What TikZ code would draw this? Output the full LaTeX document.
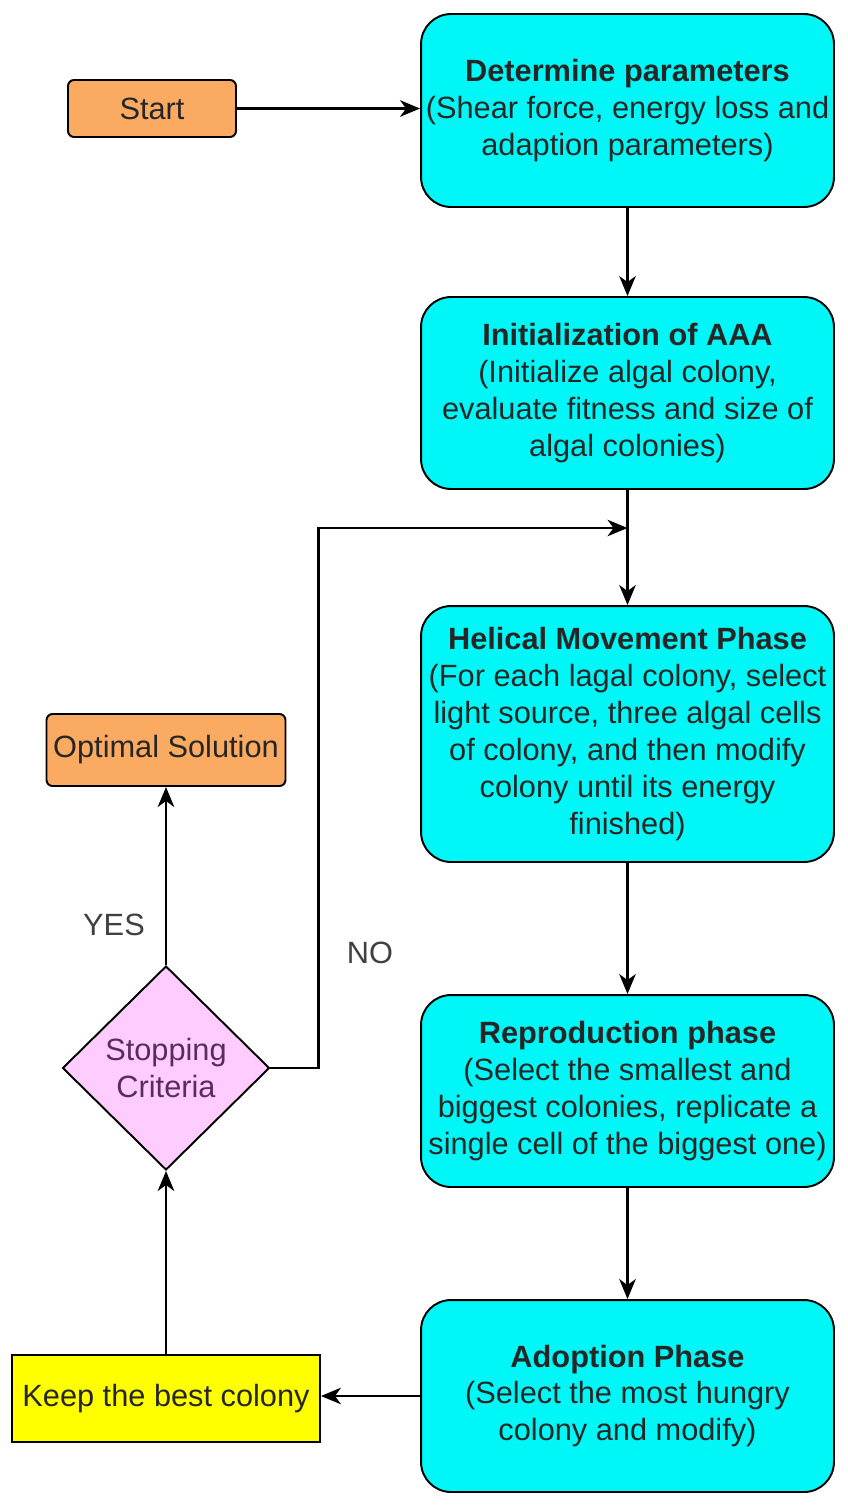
\documentclass[tikz,border=0pt]{standalone}
\usepackage{fontspec}
\setmainfont{Liberation Sans}
\usepackage{tikz}
\usepackage{xcolor}
\usetikzlibrary{
    arrows.meta,
    shapes.geometric,
    positioning
}
\definecolor{aqua}{HTML}{00F7F7}
\definecolor{peach}{HTML}{FBAA62}
\definecolor{lilac}{HTML}{FFCCFF}
\definecolor{lemon}{HTML}{FFFF00}
\definecolor{plum}{HTML}{5A2C5A}

\begin{document}
\begin{tikzpicture}[x=0.02cm, y=-0.02cm,
                        every node/.style={font=\fontsize{17.5}{21}\selectfont, text=black!85},
                        phase/.style={draw, line width=1.1pt, fill=aqua, rounded corners=0.6cm,
                            align=center, minimum width=8.26cm, inner sep=0pt},
                        terminal/.style={draw, line width=1.1pt, fill=peach, rounded corners=0.12cm,
                            inner sep=0pt},
                        flow/.style={line width=1.3pt, -{Stealth[length=4mm, width=3.3mm, inset=1.2mm]}}]
                        \useasboundingbox (0, 0) rectangle (848, 1512);
                        \node[terminal, minimum width=3.36cm, minimum height=1.14cm] (start) at (152, 108.5) {Start};
                        \node[phase, minimum height=3.86cm] (param) at (627.5, 110.5)
                        {\textbf{Determine parameters}\\(Shear force, energy loss and\\adaption parameters)};
                        \node[phase, minimum height=3.84cm] (init) at (627.5, 393)
                        {\textbf{Initialization of AAA}\\(Initialize algal colony,\\evaluate fitness and size of\\algal colonies)};
                        \node[phase, minimum height=5.12cm] (helix) at (627.5, 734)
                        {\textbf{Helical Movement Phase}\\(For each lagal colony, select\\light source, three algal cells\\of colony, and then modify\\colony until its energy\\finished)};
                        \node[phase, minimum height=3.84cm] (repro) at (627.5, 1091)
                        {\textbf{Reproduction phase}\\(Select the smallest and\\biggest colonies, replicate a\\single cell of the biggest one)};
                        \node[phase, minimum height=3.84cm] (adopt) at (627.5, 1396)
                        {\textbf{Adoption Phase}\\(Select the most hungry\\colony and modify)};
                        \node[draw, line width=1.1pt, fill=lemon, inner sep=0pt,
                            minimum width=6.16cm, minimum height=1.74cm] (keep) at (166, 1398.5) {Keep the best colony};
                        \node[diamond, draw, line width=1.1pt, fill=lilac, inner sep=0pt, align=center,
                            minimum width=4.14cm, minimum height=4.08cm, text=plum] (crit) at (166, 1068)
                        {Stopping\\Criteria};
                        \node[terminal, minimum width=4.78cm, minimum height=1.44cm] (optim) at (166, 750) {Optimal Solution};
                        \node[text=black!75] (yes) at (114, 925) {YES};
                        \node[text=black!75] (no) at (370, 953) {NO};
                        \coordinate (merge) at (627.5, 528);
                        \draw[flow] (start) -- (start -| param.west);
                        \draw[flow] (param) -- (init);
                        \draw[flow] (init) -- (helix);
                        \draw[flow] (helix) -- (repro);
                        \draw[flow] (repro) -- (adopt);
                        \draw[flow] (adopt) -- (adopt -| keep.east);
                        \draw[flow] (keep) -- (crit);
                        \draw[flow] (crit) -- (optim);
                        \draw[flow] (crit.east) -- ++(48, 0) |- (merge);
                    \end{tikzpicture}
\end{document}
